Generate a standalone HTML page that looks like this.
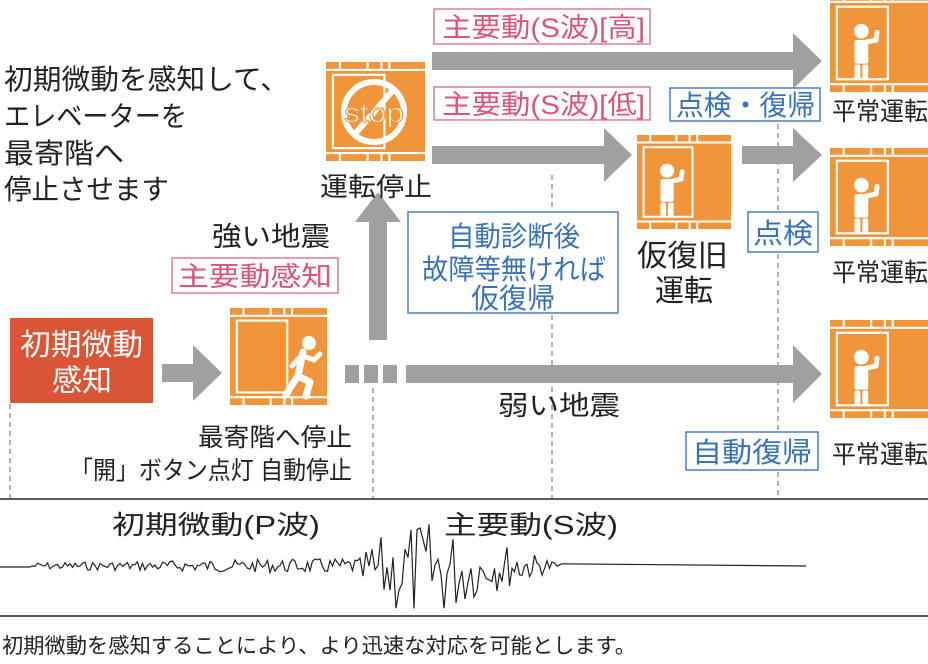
<!DOCTYPE html>
<html><head><meta charset="utf-8"><style>
html,body{margin:0;padding:0;background:#fff;}
svg{display:block;font-family:"Liberation Sans","Noto Sans CJK JP",sans-serif;}
</style></head><body>
<svg width="928" height="664" viewBox="0 0 928 664" xmlns="http://www.w3.org/2000/svg">
<defs>
<g id="elv">
 <rect x="0" y="0" width="100" height="100" fill="#f0953a"/>
 <g stroke="#fff" stroke-width="2.2" fill="none">
  <line x1="0" y1="8" x2="64" y2="8"/>
  <line x1="0" y1="92" x2="64" y2="92"/>
  <line x1="64" y1="8" x2="100" y2="8"/>
  <line x1="64" y1="92" x2="100" y2="92"/>
  <line x1="14" y1="0" x2="14" y2="8"/><line x1="42" y1="0" x2="42" y2="8"/><line x1="56" y1="0" x2="56" y2="8"/><line x1="64" y1="0" x2="64" y2="8"/>
  <line x1="14" y1="92" x2="14" y2="100"/><line x1="42" y1="92" x2="42" y2="100"/><line x1="56" y1="92" x2="56" y2="100"/><line x1="64" y1="92" x2="64" y2="100"/>
  <rect x="7" y="13" width="52" height="74"/>
 </g>
</g>
<g id="person" fill="#fff">
 <circle cx="32" cy="38" r="7.5"/>
 <rect x="25" y="47" width="14" height="24" rx="2"/>
 <rect x="25" y="72" width="6" height="15" rx="2"/>
 <rect x="33" y="72" width="6" height="15" rx="2"/>
 <path d="M37 49 L47 47 L48 39" stroke="#fff" stroke-width="5" fill="none" stroke-linecap="round" stroke-linejoin="round"/>
</g>
</defs>

<g stroke="#999" stroke-width="1.5" stroke-dasharray="5,4" fill="none">
 <line x1="10" y1="404" x2="10" y2="498"/>
 <line x1="373" y1="388" x2="373" y2="498"/>
 <line x1="552" y1="175" x2="552" y2="210"/>
 <line x1="552" y1="315" x2="552" y2="498"/>
 <line x1="778" y1="124" x2="778" y2="210"/>
 <line x1="778" y1="254" x2="778" y2="430"/>
 <line x1="778" y1="472" x2="778" y2="498"/>
</g>

<g font-size="28" fill="#222" lengthAdjust="spacingAndGlyphs">
 <text x="4" y="89" textLength="285" lengthAdjust="spacingAndGlyphs">初期微動を感知して、</text>
 <text x="4" y="126" textLength="183" lengthAdjust="spacingAndGlyphs">エレベーターを</text>
 <text x="4" y="163" textLength="120" lengthAdjust="spacingAndGlyphs">最寄階へ</text>
 <text x="4" y="199" textLength="165" lengthAdjust="spacingAndGlyphs">停止させます</text>
</g>

<rect x="10" y="318" width="143" height="85" fill="#d95535"/>
<text x="20" y="355" font-size="30" fill="#fff" textLength="123" lengthAdjust="spacingAndGlyphs">初期微動</text>
<text x="52" y="391" font-size="30" fill="#fff" textLength="60" lengthAdjust="spacingAndGlyphs">感知</text>

<g fill="#a0a0a0">
 <polygon points="162,364 193,364 193,345 222,373 193,401 193,382 162,382"/>
 <rect x="345" y="365" width="14" height="18"/>
 <rect x="364" y="365" width="14" height="18"/>
 <rect x="383" y="365" width="14" height="18"/>
 <polygon points="406,365 793,365 793,345 822,374 793,403 793,383 406,383"/>
 <polygon points="369,340 369,222 355,222 378,192 401,222 387,222 387,340"/>
 <polygon points="432,52 793,52 793,33 822,61 793,89 793,70 432,70"/>
 <polygon points="432,146 604,146 604,128 632,155 604,182 604,164 432,164"/>
 <polygon points="742,146 793,146 793,128 822,155 793,182 793,164 742,164"/>
</g>

<use href="#elv" transform="translate(230,308) scale(0.97)"/>
<g fill="#fff" transform="translate(230,308)">
 <circle cx="79" cy="35" r="7"/>
 <path d="M73 44 L68 68 L60 80 L56 87" stroke="#fff" stroke-width="7" fill="none" stroke-linecap="round" stroke-linejoin="round"/>
 <path d="M68 68 L80 74 L76 88" stroke="#fff" stroke-width="7" fill="none" stroke-linecap="round" stroke-linejoin="round"/>
 <path d="M73 48 L84 52 L90 46" stroke="#fff" stroke-width="5" fill="none" stroke-linecap="round"/>
 <path d="M71 48 L62 58" stroke="#fff" stroke-width="5" fill="none" stroke-linecap="round"/>
</g>

<use href="#elv" transform="translate(326,62) scale(0.99)"/>
<g transform="translate(326,62)">
 <circle cx="48" cy="50" r="30" fill="none" stroke="#fff" stroke-width="6"/>
 <line x1="68" y1="27" x2="28" y2="73" stroke="#fff" stroke-width="6"/>
 <text x="48" y="60" font-size="27" fill="#fff" stroke="#f0953a" stroke-width="1" text-anchor="middle" textLength="60" lengthAdjust="spacingAndGlyphs">stop</text>
</g>
<text x="320" y="196" font-size="26" fill="#222" textLength="112" lengthAdjust="spacingAndGlyphs">運転停止</text>

<use href="#elv" transform="translate(637,135) scale(0.94)"/>
<use href="#person" transform="translate(637,135) scale(0.94)"/>
<text x="637" y="266" font-size="30" fill="#222" textLength="91" lengthAdjust="spacingAndGlyphs">仮復旧</text>
<text x="655" y="301" font-size="30" fill="#222" textLength="58" lengthAdjust="spacingAndGlyphs">運転</text>

<use href="#elv" transform="translate(830,-6) scale(0.98)"/>
<use href="#person" transform="translate(830,-6) scale(0.98)"/>
<use href="#elv" transform="translate(830,148) scale(0.98)"/>
<use href="#person" transform="translate(830,148) scale(0.98)"/>
<use href="#elv" transform="translate(830,320) scale(0.98)"/>
<use href="#person" transform="translate(830,320) scale(0.98)"/>
<g font-size="25" fill="#222">
 <text x="832" y="120" textLength="96" lengthAdjust="spacingAndGlyphs">平常運転</text>
 <text x="832" y="281" textLength="96" lengthAdjust="spacingAndGlyphs">平常運転</text>
 <text x="832" y="463" textLength="96" lengthAdjust="spacingAndGlyphs">平常運転</text>
</g>

<g fill="none" stroke="#e27a95" stroke-width="1.5">
 <rect x="434" y="9" width="216" height="35"/>
 <rect x="434" y="87" width="216" height="33"/>
 <rect x="172" y="258" width="166" height="35"/>
</g>
<g font-size="27" fill="#d9557a">
 <text x="442" y="37" textLength="203" lengthAdjust="spacingAndGlyphs">主要動(S波)[高]</text>
 <text x="442" y="114" textLength="203" lengthAdjust="spacingAndGlyphs">主要動(S波)[低]</text>
 <text x="178" y="286" textLength="154" lengthAdjust="spacingAndGlyphs">主要動感知</text>
</g>
<text x="212" y="246" font-size="27" fill="#222" textLength="118" lengthAdjust="spacingAndGlyphs">強い地震</text>

<g fill="#fff" stroke="#4a7fbf" stroke-width="1.5">
 <rect x="670" y="88" width="150" height="33"/>
 <rect x="408" y="212" width="210" height="101"/>
 <rect x="748" y="212" width="70" height="40"/>
 <rect x="686" y="432" width="132" height="38"/>
</g>
<g font-size="28" fill="#3a72b8">
 <text x="676" y="115" textLength="139" lengthAdjust="spacingAndGlyphs">点検・復帰</text>
 <text x="448" y="246" textLength="132" lengthAdjust="spacingAndGlyphs">自動診断後</text>
 <text x="422" y="279" textLength="184" lengthAdjust="spacingAndGlyphs">故障等無ければ</text>
 <text x="471" y="308" textLength="84" lengthAdjust="spacingAndGlyphs">仮復帰</text>
 <text x="753" y="243" textLength="60" lengthAdjust="spacingAndGlyphs">点検</text>
 <text x="692" y="462" textLength="120" lengthAdjust="spacingAndGlyphs">自動復帰</text>
</g>

<text x="498" y="415" font-size="27" fill="#222" textLength="122" lengthAdjust="spacingAndGlyphs">弱い地震</text>
<text x="198" y="446" font-size="25" fill="#222" textLength="154" lengthAdjust="spacingAndGlyphs">最寄階へ停止</text>
<text x="70" y="479" font-size="25" fill="#222" textLength="282" lengthAdjust="spacingAndGlyphs">「開」ボタン点灯 自動停止</text>

<line x1="0" y1="499" x2="928" y2="499" stroke="#222" stroke-width="1.5"/>
<line x1="0" y1="616" x2="928" y2="616" stroke="#222" stroke-width="1.5"/>
<text x="112" y="534" font-size="26" fill="#222" textLength="208" lengthAdjust="spacingAndGlyphs">初期微動(P波)</text>
<text x="444" y="534" font-size="26" fill="#222" textLength="174" lengthAdjust="spacingAndGlyphs">主要動(S波)</text>

<path id="wave" d="" fill="none" stroke="#222" stroke-width="1.2"/>
<text x="2" y="653" font-size="21" fill="#222" textLength="634" lengthAdjust="spacingAndGlyphs">初期微動を感知することにより、より迅速な対応を可能とします。</text>
</svg>
<script>
(function(){
var s=7,r=function(){s=(s*9301+49297)%233280;return s/233280;};
var d="M0 567 L30 567";var x=30,y0=566;
while(x<360){x+=2.5;var a=3+ (x/360)*5;d+=" L"+x.toFixed(1)+" "+(y0+(r()*2-1)*a).toFixed(1);}
while(x<490){x+=3;var env=Math.sin((x-360)/130*Math.PI*0.9+0.2);var a=10+40*env;d+=" L"+x.toFixed(1)+" "+(y0+5+(r()*2-1)*a).toFixed(1);}
while(x<560){x+=2.5;var a=25*(560-x)/70+3;d+=" L"+x.toFixed(1)+" "+(y0+(r()*2-1)*a).toFixed(1);}
d+=" L806 566";
document.getElementById("wave").setAttribute("d",d);
})();
</script>
</body></html>
